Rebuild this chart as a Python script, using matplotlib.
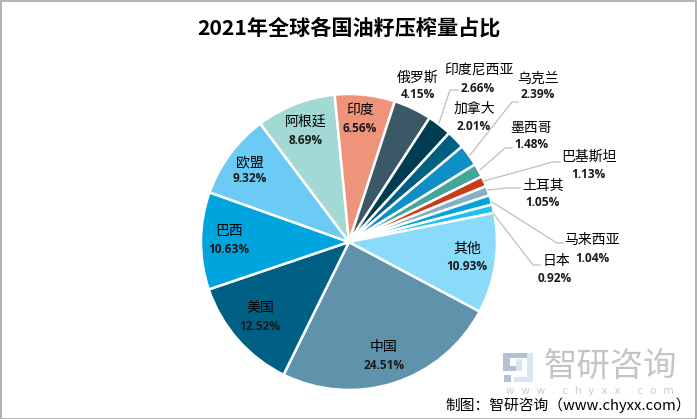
"""
2021 oilseed crush share by country, pie chart with manual labels
"""
import matplotlib
matplotlib.use("Agg")
import matplotlib.pyplot as plt
from matplotlib.patches import Rectangle

plt.rcParams['font.family'] = ['Noto Sans CJK SC', 'DejaVu Sans']

W, H = 697, 419

countries = ["中国", "美国", "巴西", "欧盟", "阿根廷", "印度", "俄罗斯", "印度尼西亚",
             "加拿大", "乌克兰", "墨西哥", "巴基斯坦", "土耳其", "马来西亚", "日本", "其他"]
shares = [24.51, 12.52, 10.63, 9.32, 8.69, 6.56, 4.15, 2.66,
          2.01, 2.39, 1.48, 1.13, 1.05, 1.04, 0.92, 10.93]
colors = ["#5F93AB", "#005F85", "#00A5DD", "#6BCBF5", "#A2D9D5", "#EE947B", "#3B5866", "#003C52",
          "#006083", "#0E90C6", "#42A69A", "#C83B1B", "#85AFC4", "#00A6D9", "#1EC0F5", "#8ADAFA"]

# label centres in pixels: name x, name y, value x, value y
label_pos = [(384, 347, 384, 365), (260, 308, 260, 326), (229, 231, 229, 249), (250, 162, 250, 179),
             (306, 122, 306, 141), (360, 110, 360, 128), (418, 78, 418, 95), (479, 70, 478, 88),
             (474, 109, 474, 126), (538, 79, 538, 95), (531, 128, 531, 144), (589, 157, 588, 174),
             (543, 186, 543, 202), (592, 240, 592, 258), (556, 261, 555, 278), (467, 249, 467, 267)]

leaders = [[(439, 123), (450, 90), (458, 90)],
           [(470, 155), (512, 102), (518, 102)],
           [(480, 170), (505, 148), (512, 148)],
           [(484, 181), (553, 162), (560, 162)],
           [(488, 190), (507, 188), (520, 188)],
           [(492, 202), (557, 243), (563, 243)],
           [(493, 213), (533, 265), (540, 265)]]

fig = plt.figure(figsize=(W / 100, H / 100), dpi=100)
ax = fig.add_axes([0, 0, 1, 1])

ax.pie(shares, colors=colors, center=(349, H - 242), radius=148, startangle=-28, counterclock=False,
       wedgeprops={"edgecolor": "white", "linewidth": 1.8}, frame=True)
ax.set_xlim(0, W)
ax.set_ylim(0, H)
ax.axis("off")

for line in leaders:
    ax.plot([p[0] for p in line], [H - p[1] for p in line], color="#BFBFBF", lw=0.9, zorder=3)

for name, val, pos in zip(countries, shares, label_pos):
    t = ax.text(pos[0], H - pos[1], name, ha="center", va="center", fontsize=10, color="black", zorder=5)
    t.set_path_effects([])
    ax.text(pos[2], H - pos[3], f"{val:.2f}%", ha="center", va="center", fontsize=8.6,
            family="Open Sans", fontweight="bold", color="#1A1A1A", zorder=5)

ax.text(349, H - 28, "2021年全球各国油籽压榨量占比", ha="center", va="center",
        fontsize=15.2, fontweight="bold", color="black")

# watermark logo
for x, y, w, h, c in [(503, 353, 26, 5, "#B4C0D8"), (503, 353, 7, 17, "#B4C0D8"), (503, 366, 18, 5, "#B4C0D8"),
                      (516, 359, 6, 12, "#D5E6F4"), (527, 353, 6, 29, "#D5E6F4"), (514, 377, 19, 5, "#D5E6F4"),
                      (504, 375, 7, 7, "#B4C0D8")]:
    ax.add_patch(Rectangle((x, H - y - h), w, h, color=c, lw=0, zorder=1))
ax.text(610, H - 366, "智研咨询", ha="center", va="center", fontsize=24, color="#C4C4C4", zorder=1)
ax.text(590, H - 391, "w  w  w  .  c  h  y  x  x  .  c  o  m", ha="center", va="center", fontsize=7.6,
        family="DejaVu Sans", color="#CDCDCD", zorder=1)

ax.text(568, H - 405, "制图：智研咨询（www.chyxx.com）", ha="center", va="center", fontsize=10.6,
        color="black", zorder=6)

fig.add_artist(Rectangle((0.5 / W, 0.5 / H), (W - 1.5) / W, (H - 1.5) / H, fill=False, edgecolor="#A6A6A6",
                         lw=1.2, transform=fig.transFigure))

fig.savefig("out.png", dpi=100)
